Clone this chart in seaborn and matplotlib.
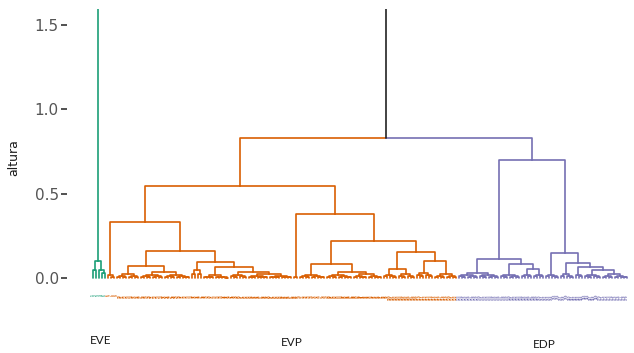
import numpy as np
import pandas as pd
import matplotlib
matplotlib.use("Agg")
import matplotlib.pyplot as plt
import seaborn as sns

# ---------------- data ----------------
clusters = ["EVE", "EVP", "EDP"]
cluster_colors = ["#1B9E77", "#D95F02", "#7570B3"]
above_color = "#222222"

# merge heights ("altura").
# node = [height, left, right]; bush = (number of leaves, top height)
EVE_tree = [0.10, (2, 0.05), (3, 0.05)]

A1 = (3, 0.015)
A2a = [0.07, (8, 0.025), [0.035, (8, 0.02), (9, 0.02)]]
A2b = [0.095, (4, 0.045), [0.065, (9, 0.015), [0.035, (6, 0.02), (15, 0.025)]]]
A = [0.33, A1, [0.16, A2a, A2b]]
B1 = (2, 0.008)
B2a = [0.083, (9, 0.02), [0.035, (9, 0.02), (10, 0.025)]]
B2b = [0.155, [0.055, (5, 0.02), (6, 0.025)], [0.10, (6, 0.03), (8, 0.025)]]
B = [0.38, B1, [0.22, B2a, B2b]]
EVP_tree = [0.545, A, B]

E1 = [0.11, (14, 0.03), [0.083, (7, 0.02), [0.055, (4, 0.02), (4, 0.02)]]]
E2 = [0.148, (5, 0.02), [0.09, (5, 0.025), [0.065, (3, 0.02), [0.05, (6, 0.02), (9, 0.025)]]]]
EDP_tree = [0.70, E1, E2]

cluster_trees = [EVE_tree, EVP_tree, EDP_tree]
rest_height = 0.83   # EVP + EDP
root_height = 2.40   # EVE + rest (above the visible range)

# internal shape of the small leaf bushes (fractions of bush height)
bush_fractions = [1.0, 0.55, 0.3, 0.15, 0.08]

yticks = [0.0, 0.5, 1.0, 1.5]
ytick_labels = ["0.0", "0.5", "1.0", "1.5"]

# ---------------- build segments ----------------
rows = []
leaves = []
state = {"leaf": 0, "seg": 0}


def add_elbow(cx, ch, px, ph, group):
    s = state["seg"]
    state["seg"] += 1
    for x, y in [(cx, ch), (cx, ph), (px, ph)]:
        rows.append({"seg": s, "x": x, "y": y, "group": group})


def build_bush(n, h, level, group):
    if n == 1:
        x = state["leaf"]
        state["leaf"] += 1
        leaves.append((x, group))
        return x, 0.0
    nl = n // 2
    nr = n - nl
    ch = h * bush_fractions[min(level + 1, len(bush_fractions) - 1)] / bush_fractions[min(level, len(bush_fractions) - 1)]
    lx, lh = build_bush(nl, ch, level + 1, group)
    rx, rh = build_bush(nr, ch, level + 1, group)
    px = (lx + rx) / 2
    add_elbow(lx, lh, px, h, group)
    add_elbow(rx, rh, px, h, group)
    return px, h


def build(node, group):
    if isinstance(node, tuple):
        return build_bush(node[0], node[1], 0, group)
    h, left, right = node
    lx, lh = build(left, group)
    rx, rh = build(right, group)
    px = (lx + rx) / 2
    add_elbow(lx, lh, px, h, group)
    add_elbow(rx, rh, px, h, group)
    return px, h


eve_x, eve_h = build(cluster_trees[0], clusters[0])
evp_x, evp_h = build(cluster_trees[1], clusters[1])
edp_x, edp_h = build(cluster_trees[2], clusters[2])
rest_x = (evp_x + edp_x) / 2
add_elbow(evp_x, evp_h, rest_x, rest_height, clusters[1])
add_elbow(edp_x, edp_h, rest_x, rest_height, clusters[2])
root_x = (eve_x + rest_x) / 2
add_elbow(eve_x, eve_h, root_x, root_height, clusters[0])
add_elbow(rest_x, rest_height, root_x, root_height, "above")

df = pd.DataFrame(rows)
palette = dict(zip(clusters, cluster_colors))
palette["above"] = above_color

# ---------------- plot ----------------
sns.set_theme(style="white")
fig = plt.figure(figsize=(6.34, 3.53), dpi=100)
ax = fig.add_axes([67 / 634, 35 / 353, 567 / 634, 309 / 353])

sns.lineplot(data=df, x="x", y="y", units="seg", hue="group", palette=palette,
             estimator=None, sort=False, legend=False, linewidth=1.2, ax=ax)

n_leaves = state["leaf"]
for i, (x, g) in enumerate(leaves):
    ax.text(x, -0.095, str(i + 1), rotation=90, ha="center", va="top",
            fontsize=1.9, fontweight="bold", color=palette[g], clip_on=False)

k = 534 / (n_leaves - 1)
xmin = -26 / k
ax.set_xlim(xmin, xmin + 567 / k)
ymax = (278 - 9) / 168.6
ymin = (278 - 318) / 168.6
ax.set_ylim(ymin, ymax)

ax.set_xticks([])
ax.set_yticks(yticks)
ax.set_yticklabels(ytick_labels)
ax.tick_params(axis="y", left=True, length=4, width=1.2, color="#333333",
               labelcolor="#555555", labelsize=11, pad=2)
ax.set_xlabel("")
ax.set_ylabel("")
for sp in ax.spines.values():
    sp.set_visible(False)

fig.text(14 / 634, 1 - 158 / 353, "altura", rotation=90, ha="center", va="center",
         fontsize=9, color="#1a1a1a")

group_label_pos = [(101, 341), (292, 342), (544, 345)]
for name, (px, py) in zip(clusters, group_label_pos):
    fig.text(px / 634, 1 - py / 353, name, ha="center", va="center",
             fontsize=8.5, family="Lato", color="#1a1a1a")

fig.savefig("out.png", dpi=100)
